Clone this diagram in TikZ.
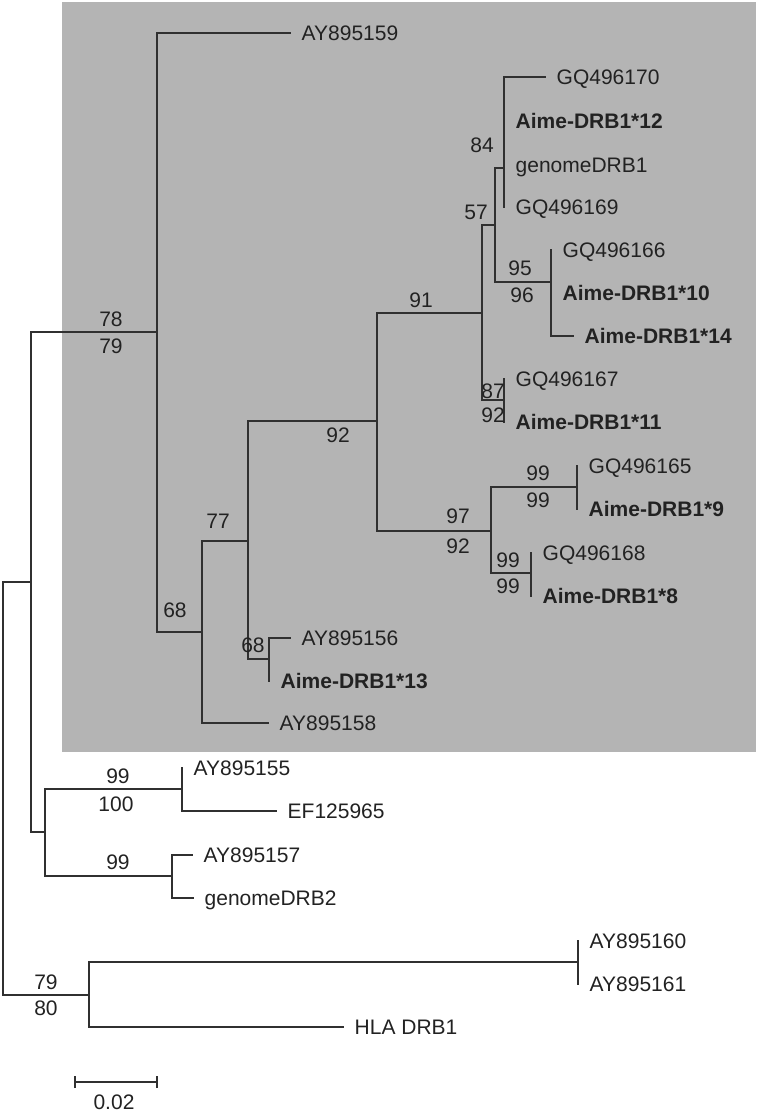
\documentclass[tikz,border=0pt]{standalone}
\usepackage{fontspec}
\setmainfont{Liberation Sans}
\definecolor{boxgray}{HTML}{B4B4B4}
\definecolor{ink}{HTML}{222222}
\definecolor{linec}{HTML}{303030}
\begin{document}
\begin{tikzpicture}[x=1pt,y=-1pt,
  br/.style={draw=linec,line width=1.7pt,line cap=rect},
  leaf/.style={anchor=west,inner xsep=11.5pt,inner ysep=0pt,text=ink,
    font=\fontsize{21}{25}\selectfont,text height=15pt,text depth=0pt},
  bleaf/.style={leaf,font=\fontsize{21}{25}\selectfont\bfseries},
  sup/.style={inner sep=0pt,text=ink,font=\fontsize{21}{25}\selectfont,
    text height=15pt,text depth=0pt}]
\useasboundingbox (0,0) rectangle (758,1113);
\fill[boxgray] (62,2) rectangle (756,752);
% internal nodes
\coordinate (R) at (3,788);
\coordinate (A) at (31,582);
\coordinate (Out) at (89,995);
\coordinate (B) at (157,332);
\coordinate (C) at (45,832);
\coordinate (D) at (202,632);
\coordinate (E) at (248,541);
\coordinate (F) at (377,421);
\coordinate (G) at (269,659);
\coordinate (H) at (482,313);
\coordinate (I) at (491,531);
\coordinate (J) at (495,225);
\coordinate (K) at (504,400);
\coordinate (L) at (504,168);
\coordinate (M) at (551,282);
\coordinate (N) at (577,487);
\coordinate (O) at (531,573);
\coordinate (P) at (182,789);
\coordinate (Q) at (172,876);
\coordinate (S) at (578,962);
% leaves
\node[leaf]  (l159) at (290,33) {AY895159};
\node[leaf]  (l170) at (545,77) {GQ496170};
\node[bleaf] (a12) at (504,121) {Aime-DRB1*12};
\node[leaf]  (gd1) at (504,165) {genomeDRB1};
\node[leaf]  (l169) at (504,207) {GQ496169};
\node[leaf]  (l166) at (551,250) {GQ496166};
\node[bleaf] (a10) at (551,293) {Aime-DRB1*10};
\node[bleaf] (a14) at (573,336) {Aime-DRB1*14};
\node[leaf]  (l167) at (504,379) {GQ496167};
\node[bleaf] (a11) at (504,422) {Aime-DRB1*11};
\node[leaf]  (l165) at (577,466) {GQ496165};
\node[bleaf] (a9) at (577,509) {Aime-DRB1*9};
\node[leaf]  (l168) at (531,553) {GQ496168};
\node[bleaf] (a8) at (531,596) {Aime-DRB1*8};
\node[leaf]  (l156) at (290,638) {AY895156};
\node[bleaf] (a13) at (269,681) {Aime-DRB1*13};
\node[leaf]  (l158) at (268,723) {AY895158};
\node[leaf]  (l155) at (182,768) {AY895155};
\node[leaf]  (ef) at (276,811) {EF125965};
\node[leaf]  (l157) at (192,855) {AY895157};
\node[leaf]  (gd2) at (193,898) {genomeDRB2};
\node[leaf]  (l160) at (578,941) {AY895160};
\node[leaf]  (l161) at (578,984) {AY895161};
\node[leaf]  (hla) at (343,1027) {HLA DRB1};
% branches
\draw[br] (R) |- (A);
\draw[br] (R) |- (Out);
\draw[br] (A) |- (B);
\draw[br] (A) |- (C);
\draw[br] (B) |- (l159.west);
\draw[br] (B) |- (D);
\draw[br] (D) |- (E);
\draw[br] (D) |- (l158.west);
\draw[br] (E) |- (F);
\draw[br] (E) |- (G);
\draw[br] (G) |- (l156.west);
\draw[br] (G) |- (a13.west);
\draw[br] (F) |- (H);
\draw[br] (F) |- (I);
\draw[br] (H) |- (J);
\draw[br] (H) |- (K);
\draw[br] (J) |- (L);
\draw[br] (J) |- (M);
\draw[br] (L) |- (l170.west);
\draw[br] (L) |- (a12.west);
\draw[br] (L) |- (gd1.west);
\draw[br] (L) |- (l169.west);
\draw[br] (M) |- (l166.west);
\draw[br] (M) |- (a10.west);
\draw[br] (M) |- (a14.west);
\draw[br] (K) |- (l167.west);
\draw[br] (K) |- (a11.west);
\draw[br] (I) |- (N);
\draw[br] (I) |- (O);
\draw[br] (N) |- (l165.west);
\draw[br] (N) |- (a9.west);
\draw[br] (O) |- (l168.west);
\draw[br] (O) |- (a8.west);
\draw[br] (C) |- (P);
\draw[br] (C) |- (Q);
\draw[br] (P) |- (l155.west);
\draw[br] (P) |- (ef.west);
\draw[br] (Q) |- (l157.west);
\draw[br] (Q) |- (gd2.west);
\draw[br] (Out) |- (S);
\draw[br] (Out) |- (hla.west);
\draw[br] (S) |- (l160.west);
\draw[br] (S) |- (l161.west);
% support values
\node[sup] (s1) at (111,319) {78};
\node[sup] (s2) at (111,346) {79};
\node[sup] (s3) at (175,610) {68};
\node[sup] (s4) at (218,521) {77};
\node[sup] (s5) at (338,435) {92};
\node[sup] (s6) at (253,645) {68};
\node[sup] (s7) at (421,300) {91};
\node[sup] (s8) at (476,212) {57};
\node[sup] (s9) at (482,145) {84};
\node[sup] (s10) at (520,268) {95};
\node[sup] (s11) at (522,295) {96};
\node[sup] (s12) at (493,391) {87};
\node[sup] (s13) at (493,415) {92};
\node[sup] (s14) at (458,516) {97};
\node[sup] (s15) at (458,546) {92};
\node[sup] (s16) at (538,473) {99};
\node[sup] (s17) at (538,500) {99};
\node[sup] (s18) at (508,560) {99};
\node[sup] (s19) at (508,586) {99};
\node[sup] (s20) at (118,776) {99};
\node[sup] (s21) at (116,804) {100};
\node[sup] (s22) at (118,862) {99};
\node[sup] (s23) at (46,982) {79};
\node[sup] (s24) at (46,1008) {80};
% scale bar
\coordinate (sb1) at (75,1082);
\coordinate (sb2) at (157,1082);
\draw[br,line cap=butt] (sb1) -- (sb2);
\draw[br,line cap=butt] ([yshift=-6]sb1) -- ([yshift=6]sb1);
\draw[br,line cap=butt] ([yshift=-6]sb2) -- ([yshift=6]sb2);
\node[sup] (sbl) at (114,1102) {0.02};
\end{tikzpicture}
\end{document}
